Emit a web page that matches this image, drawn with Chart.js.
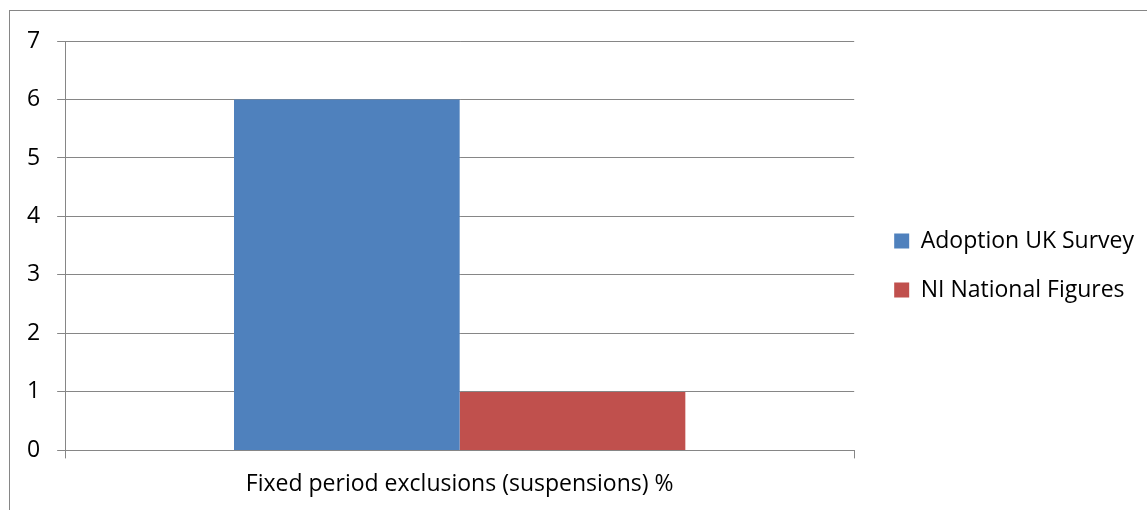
<!DOCTYPE html>
<html>
<head>
<meta charset="utf-8">
<style>
  html, body { margin: 0; padding: 0; background: #ffffff; }
  #wrap { width: 1147px; height: 510px; position: relative; }
</style>
<script src="https://cdn.jsdelivr.net/npm/chart.js@4.4.0/dist/chart.umd.min.js"></script>
</head>
<body>
<div id="wrap"><canvas id="exclusionsChart" width="1147" height="510"></canvas></div>
<script>
// Data
var categories = ["Fixed period exclusions (suspensions) %"];
var seriesNames = ["Adoption UK Survey", "NI National Figures"];
var adoptionValues = [6];
var nationalValues = [1];
var yTicks = [0, 1, 2, 3, 4, 5, 6, 7];

var gridGrey = "#868686";
var fontFamily = "'Open Sans', sans-serif";

// Outer frame of the chart object (only top and left edges show)
var framePlugin = {
  id: "frame",
  beforeDraw: function (chart) {
    var c = chart.ctx;
    c.save();
    c.fillStyle = "#ffffff";
    c.fillRect(0, 0, chart.width, chart.height);
    c.strokeStyle = gridGrey;
    c.lineWidth = 1;
    c.strokeRect(9.5, 10.5, chart.width + 20, chart.height + 20);
    c.restore();
  }
};

// push the legend a bit further away from the plot and up, like the original
var legendShift = {
  id: "legendShift",
  afterLayout: function (chart) {
    chart.legend.left += 14;
    chart.legend.right += 14;
    chart.legend.top -= 10;
    chart.legend.bottom -= 10;
  }
};

var ctx = document.getElementById("exclusionsChart").getContext("2d");
var myBarChart = new Chart(ctx, {
  type: "bar",
  data: {
    labels: categories,
    datasets: [
      { label: seriesNames[0], data: adoptionValues, backgroundColor: "#4F81BD" },
      { label: seriesNames[1], data: nationalValues, backgroundColor: "#C0504D" }
    ]
  },
  options: {
    responsive: false,
    animation: false,
    layout: { padding: { left: 10, top: 41, right: 17, bottom: 0 } },
    datasets: { bar: { categoryPercentage: 0.572, barPercentage: 1.0 } },
    scales: {
      x: {
        grid: { display: true, drawOnChartArea: false, drawTicks: true, tickLength: 8, color: gridGrey, offset: true },
        border: { display: true, color: gridGrey },
        ticks: { color: "#000000", font: { family: fontFamily, size: 23 }, padding: 12 }
      },
      y: {
        min: 0,
        max: 7,
        afterBuildTicks: function (axis) {
          axis.ticks = yTicks.map(function (v) { return { value: v }; });
        },
        grid: { color: gridGrey, tickLength: 8, drawTicks: true },
        border: { display: true, color: gridGrey },
        ticks: { color: "#000000", font: { family: fontFamily, size: 23 }, padding: 17 }
      }
    },
    plugins: {
      legend: {
        position: "right",
        labels: {
          boxWidth: 15,
          boxHeight: 15,
          color: "#000000",
          font: { family: fontFamily, size: 23 },
          padding: 26
        }
      },
      tooltip: { enabled: false }
    }
  },
  plugins: [framePlugin, legendShift]
});
</script>
</body>
</html>
